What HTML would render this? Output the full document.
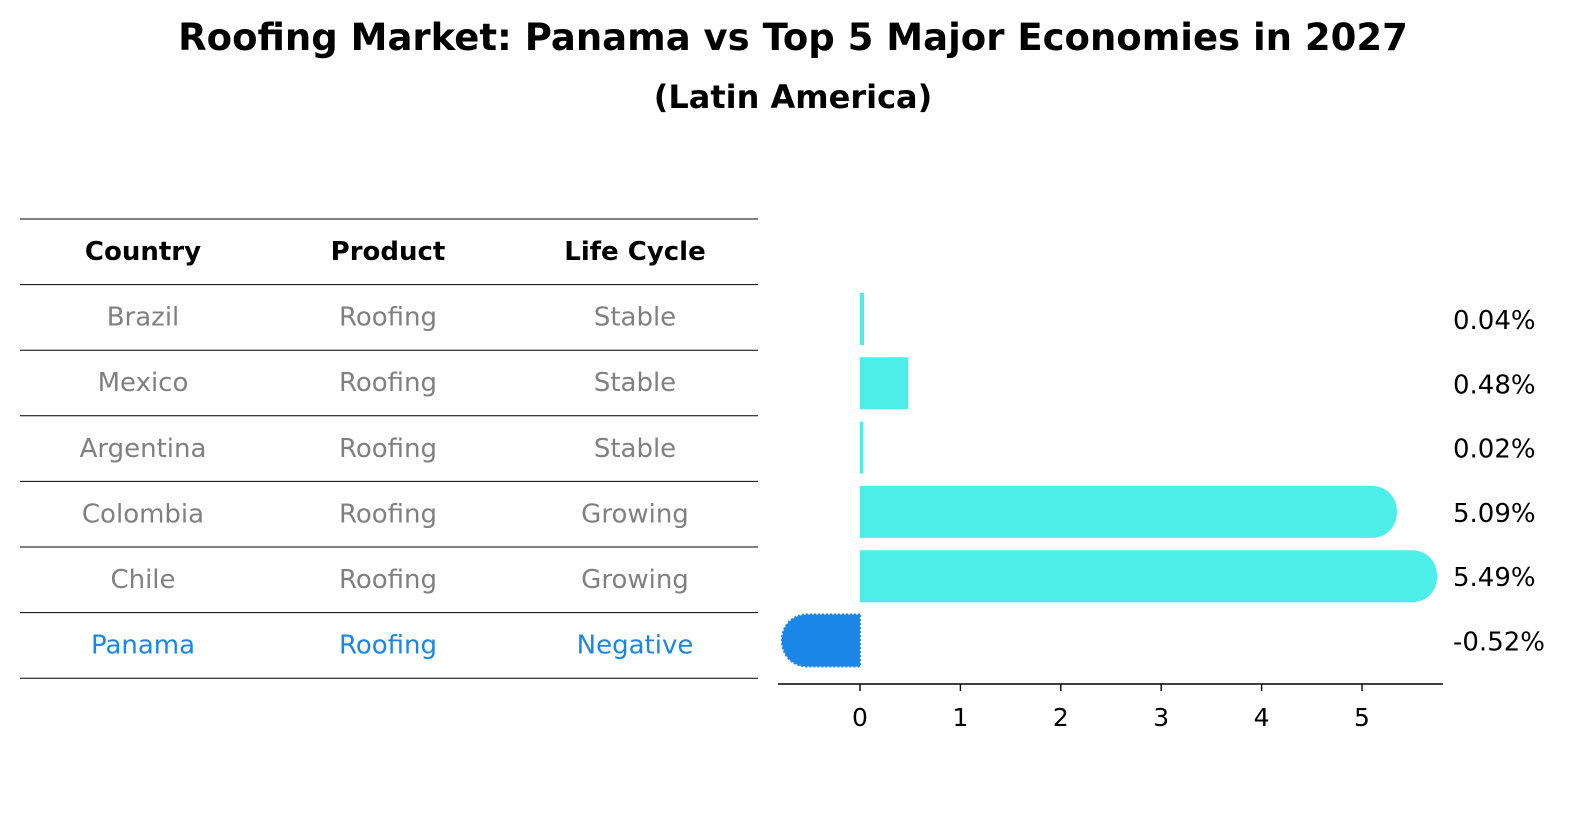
<!DOCTYPE html>
<html><head><meta charset="utf-8"><style>
body{margin:0;background:#fff;font-family:"Liberation Sans","DejaVu Sans",sans-serif}
svg text{font-family:"DejaVu Sans","Liberation Sans",sans-serif}
</style></head><body>
<svg id="c" width="1596" height="823" viewBox="0 0 1596 823">
<text x="793" y="50" text-anchor="middle" font-size="37" font-weight="bold">Roofing Market: Panama vs Top 5 Major Economies in 2027</text>
<text x="793" y="108" text-anchor="middle" font-size="32" font-weight="bold">(Latin America)</text>
<g id="tbl"></g>
<g id="bars"></g>
</svg>
<script>
const countries=["Brazil","Mexico","Argentina","Colombia","Chile","Panama"];
const products=["Roofing","Roofing","Roofing","Roofing","Roofing","Roofing"];
const lifeCycles=["Stable","Stable","Stable","Growing","Growing","Negative"];
const values=[0.04,0.48,0.02,5.09,5.49,-0.52];
const valueLabels=["0.04%","0.48%","0.02%","5.09%","5.49%","-0.52%"];
const ticks=[0,1,2,3,4,5];
const NS="http://www.w3.org/2000/svg";
function mk(p,t,a){const e=document.createElementNS(NS,t);for(const k in a)e.setAttribute(k,a[k]);p.appendChild(e);return e;}
const tbl=document.getElementById('tbl');
const lineY=r=>219+r*65.6;
for(let r=0;r<=7;r++){const l=mk(tbl,'line',{x1:20,x2:758,y1:lineY(r),y2:lineY(r),stroke:'#000','stroke-width':1});
}
const cx=[143,388,635];
["Country","Product","Life Cycle"].forEach((h,i)=>{const t=mk(tbl,'text',{x:cx[i],y:lineY(0)+41,'text-anchor':'middle','font-size':26,'font-weight':'bold'});t.textContent=h;
});
countries.forEach((c,r)=>{const col=r===countries.length-1?'#1a86e8':'#808080';
[c,products[r],lifeCycles[r]].forEach((v,i)=>{const t=mk(tbl,'text',{x:cx[i],y:lineY(r+1)+41,'text-anchor':'middle','font-size':26,fill:col});t.textContent=v;
});});
const bars=document.getElementById('bars');
const X=v=>860+v*100.4;
const barTop=i=>293+i*64.3, bh=52, rad=26;
values.forEach((v,i)=>{const y=barTop(i);const x0=X(0),x1=X(v);const col=v<0?'#1a86e8':'#4deeea';
let d;
if(Math.abs(v)>=1||v<0){const s=v<0?-1:1;
d=`M${x0},${y} L${x1},${y} C${x1+s*rad*1.33},${y} ${x1+s*rad*1.33},${y+bh} ${x1},${y+bh} L${x0},${y+bh} Z`;}
else{const w=Math.max(x1-x0,3);d=`M${x0},${y} h${w} v${bh} h${-w} Z`;}
const p=mk(bars,'path',{d:d,fill:col});
if(v<0){p.setAttribute('stroke','#1a86e8');p.setAttribute('stroke-dasharray','2 2');p.setAttribute('stroke-width','2');}

const t=mk(bars,'text',{x:1453,y:y+bh/2+10,'font-size':26});t.textContent=valueLabels[i];
});
const ax=mk(bars,'line',{x1:778,x2:1443,y1:684,y2:684,stroke:'#000','stroke-width':1.6});

ticks.forEach(v=>{const l=mk(bars,'line',{x1:X(v),x2:X(v),y1:684,y2:691,stroke:'#000','stroke-width':1.4});

const t=mk(bars,'text',{x:X(v),y:726,'text-anchor':'middle','font-size':25});t.textContent=v;
});
</script>
</body></html>
